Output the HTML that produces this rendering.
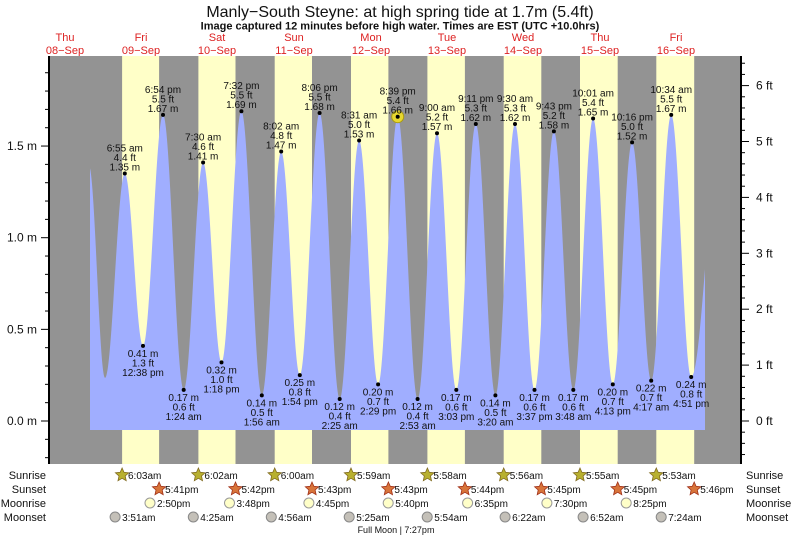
<!DOCTYPE html>
<html><head><meta charset="utf-8"><style>
body{margin:0;background:#fff}
svg{display:block;font-family:"Liberation Sans",sans-serif}
.l{font-size:10px;fill:#111;text-anchor:middle}
.r{font-size:12px;fill:#111}
.s{font-size:11px;fill:#111}
</style></head><body>
<svg id="s" width="793" height="538" viewBox="0 0 793 538" xmlns="http://www.w3.org/2000/svg">
<rect x="0" y="0" width="793" height="538" fill="#fff"/>
<text x="400" y="17" font-size="16" text-anchor="middle" fill="#111">Manly−South Steyne: at high  spring tide at 1.7m (5.4ft)</text>
<text x="400" y="29.5" font-size="11" font-weight="bold" text-anchor="middle" fill="#111">Image captured 12 minutes before high water. Times are EST (UTC +10.0hrs)</text>
<g font-size="11" fill="#d22" text-anchor="middle">
<text x="65" y="41">Thu</text><text x="65" y="54">08−Sep</text>
<text x="141" y="41">Fri</text><text x="141" y="54">09−Sep</text>
<text x="217" y="41">Sat</text><text x="217" y="54">10−Sep</text>
<text x="294" y="41">Sun</text><text x="294" y="54">11−Sep</text>
<text x="371" y="41">Mon</text><text x="371" y="54">12−Sep</text>
<text x="447" y="41">Tue</text><text x="447" y="54">13−Sep</text>
<text x="523" y="41">Wed</text><text x="523" y="54">14−Sep</text>
<text x="600" y="41">Thu</text><text x="600" y="54">15−Sep</text>
<text x="676" y="41">Fri</text><text x="676" y="54">16−Sep</text>
</g>
<rect x="49" y="56" width="692" height="408" fill="#939393"/>
<g fill="#ffffc8">
<rect x="122.1" y="56" width="37" height="408"/>
<rect x="198.4" y="56" width="37.1" height="408"/>
<rect x="274.7" y="56" width="37.3" height="408"/>
<rect x="351.0" y="56" width="37.4" height="408"/>
<rect x="427.4" y="56" width="37.5" height="408"/>
<rect x="503.7" y="56" width="37.6" height="408"/>
<rect x="580.0" y="56" width="37.7" height="408"/>
<rect x="656.3" y="56" width="37.9" height="408"/>
</g>
<path id="tide" fill="#a0aeff" d=""/>
<line x1="49" y1="56" x2="49" y2="464" stroke="#000" stroke-width="2"/>
<line x1="741" y1="56" x2="741" y2="464" stroke="#000" stroke-width="2"/>
<g id="ticks" stroke="#000" stroke-width="1"></g>
<g class="r" text-anchor="end">
<text x="37" y="425">0.0 m</text><text x="37" y="333.4">0.5 m</text><text x="37" y="241.7">1.0 m</text><text x="37" y="150">1.5 m</text>
</g>
<g class="r">
<text x="756" y="425">0 ft</text><text x="756" y="369.1">1 ft</text><text x="756" y="313.2">2 ft</text><text x="756" y="257.3">3 ft</text><text x="756" y="201.4">4 ft</text><text x="756" y="145.5">5 ft</text><text x="756" y="89.6">6 ft</text>
</g>
<circle cx="397.7" cy="116.7" r="6" fill="#e8d830" stroke="#aa9a10"/>
<g id="dots" fill="#000"></g>
<g class="l">
<text x="124.8" y="151.5"><tspan x="124.8">6:55 am</tspan><tspan x="124.8" dy="9.5">4.4 ft</tspan><tspan x="124.8" dy="9.5">1.35 m</tspan></text>
<text x="163.0" y="92.9"><tspan x="163.0">6:54 pm</tspan><tspan x="163.0" dy="9.5">5.5 ft</tspan><tspan x="163.0" dy="9.5">1.67 m</tspan></text>
<text x="203.1" y="140.5"><tspan x="203.1">7:30 am</tspan><tspan x="203.1" dy="9.5">4.6 ft</tspan><tspan x="203.1" dy="9.5">1.41 m</tspan></text>
<text x="241.4" y="89.2"><tspan x="241.4">7:32 pm</tspan><tspan x="241.4" dy="9.5">5.5 ft</tspan><tspan x="241.4" dy="9.5">1.69 m</tspan></text>
<text x="281.2" y="129.5"><tspan x="281.2">8:02 am</tspan><tspan x="281.2" dy="9.5">4.8 ft</tspan><tspan x="281.2" dy="9.5">1.47 m</tspan></text>
<text x="319.6" y="91.1"><tspan x="319.6">8:06 pm</tspan><tspan x="319.6" dy="9.5">5.5 ft</tspan><tspan x="319.6" dy="9.5">1.68 m</tspan></text>
<text x="359.1" y="118.6"><tspan x="359.1">8:31 am</tspan><tspan x="359.1" dy="9.5">5.0 ft</tspan><tspan x="359.1" dy="9.5">1.53 m</tspan></text>
<text x="397.7" y="94.7"><tspan x="397.7">8:39 pm</tspan><tspan x="397.7" dy="9.5">5.4 ft</tspan><tspan x="397.7" dy="9.5">1.66 m</tspan></text>
<text x="437.0" y="111.2"><tspan x="437.0">9:00 am</tspan><tspan x="437.0" dy="9.5">5.2 ft</tspan><tspan x="437.0" dy="9.5">1.57 m</tspan></text>
<text x="475.8" y="102.1"><tspan x="475.8">9:11 pm</tspan><tspan x="475.8" dy="9.5">5.3 ft</tspan><tspan x="475.8" dy="9.5">1.62 m</tspan></text>
<text x="515.0" y="102.1"><tspan x="515.0">9:30 am</tspan><tspan x="515.0" dy="9.5">5.3 ft</tspan><tspan x="515.0" dy="9.5">1.62 m</tspan></text>
<text x="553.9" y="109.4"><tspan x="553.9">9:43 pm</tspan><tspan x="553.9" dy="9.5">5.2 ft</tspan><tspan x="553.9" dy="9.5">1.58 m</tspan></text>
<text x="593.1" y="96.6"><tspan x="593.1">10:01 am</tspan><tspan x="593.1" dy="9.5">5.4 ft</tspan><tspan x="593.1" dy="9.5">1.65 m</tspan></text>
<text x="632.1" y="120.4"><tspan x="632.1">10:16 pm</tspan><tspan x="632.1" dy="9.5">5.0 ft</tspan><tspan x="632.1" dy="9.5">1.52 m</tspan></text>
<text x="671.2" y="92.9"><tspan x="671.2">10:34 am</tspan><tspan x="671.2" dy="9.5">5.5 ft</tspan><tspan x="671.2" dy="9.5">1.67 m</tspan></text>

<text x="143.0" y="356.8"><tspan x="143.0">0.41 m</tspan><tspan x="143.0" dy="9.5">1.3 ft</tspan><tspan x="143.0" dy="9.5">12:38 pm</tspan></text>
<text x="183.7" y="400.8"><tspan x="183.7">0.17 m</tspan><tspan x="183.7" dy="9.5">0.6 ft</tspan><tspan x="183.7" dy="9.5">1:24 am</tspan></text>
<text x="221.5" y="373.3"><tspan x="221.5">0.32 m</tspan><tspan x="221.5" dy="9.5">1.0 ft</tspan><tspan x="221.5" dy="9.5">1:18 pm</tspan></text>
<text x="261.8" y="406.3"><tspan x="261.8">0.14 m</tspan><tspan x="261.8" dy="9.5">0.5 ft</tspan><tspan x="261.8" dy="9.5">1:56 am</tspan></text>
<text x="299.8" y="386.2"><tspan x="299.8">0.25 m</tspan><tspan x="299.8" dy="9.5">0.8 ft</tspan><tspan x="299.8" dy="9.5">1:54 pm</tspan></text>
<text x="339.7" y="410.0"><tspan x="339.7">0.12 m</tspan><tspan x="339.7" dy="9.5">0.4 ft</tspan><tspan x="339.7" dy="9.5">2:25 am</tspan></text>
<text x="378.1" y="395.3"><tspan x="378.1">0.20 m</tspan><tspan x="378.1" dy="9.5">0.7 ft</tspan><tspan x="378.1" dy="9.5">2:29 pm</tspan></text>
<text x="417.6" y="410.0"><tspan x="417.6">0.12 m</tspan><tspan x="417.6" dy="9.5">0.4 ft</tspan><tspan x="417.6" dy="9.5">2:53 am</tspan></text>
<text x="456.3" y="400.8"><tspan x="456.3">0.17 m</tspan><tspan x="456.3" dy="9.5">0.6 ft</tspan><tspan x="456.3" dy="9.5">3:03 pm</tspan></text>
<text x="495.4" y="406.3"><tspan x="495.4">0.14 m</tspan><tspan x="495.4" dy="9.5">0.5 ft</tspan><tspan x="495.4" dy="9.5">3:20 am</tspan></text>
<text x="534.5" y="400.8"><tspan x="534.5">0.17 m</tspan><tspan x="534.5" dy="9.5">0.6 ft</tspan><tspan x="534.5" dy="9.5">3:37 pm</tspan></text>
<text x="573.3" y="400.8"><tspan x="573.3">0.17 m</tspan><tspan x="573.3" dy="9.5">0.6 ft</tspan><tspan x="573.3" dy="9.5">3:48 am</tspan></text>
<text x="612.8" y="395.3"><tspan x="612.8">0.20 m</tspan><tspan x="612.8" dy="9.5">0.7 ft</tspan><tspan x="612.8" dy="9.5">4:13 pm</tspan></text>
<text x="651.2" y="391.7"><tspan x="651.2">0.22 m</tspan><tspan x="651.2" dy="9.5">0.7 ft</tspan><tspan x="651.2" dy="9.5">4:17 am</tspan></text>
<text x="691.2" y="388.0"><tspan x="691.2">0.24 m</tspan><tspan x="691.2" dy="9.5">0.8 ft</tspan><tspan x="691.2" dy="9.5">4:51 pm</tspan></text>
</g>
<g class="s" text-anchor="end">
<text x="46" y="479">Sunrise</text><text x="46" y="493">Sunset</text><text x="46" y="507">Moonrise</text><text x="46" y="521">Moonset</text>
</g>
<g class="s">
<text x="746" y="479">Sunrise</text><text x="746" y="493">Sunset</text><text x="746" y="507">Moonrise</text><text x="746" y="521">Moonset</text>
</g>
<g id="icons"></g>
<g font-size="10" fill="#111">
<text x="128" y="479">6:03am</text><text x="204.4" y="479">6:02am</text><text x="280.7" y="479">6:00am</text><text x="357" y="479">5:59am</text><text x="433.4" y="479">5:58am</text><text x="509.7" y="479">5:56am</text><text x="586" y="479">5:55am</text><text x="662.3" y="479">5:53am</text>
<text x="165.1" y="493">5:41pm</text><text x="241.5" y="493">5:42pm</text><text x="318" y="493">5:43pm</text><text x="394.4" y="493">5:43pm</text><text x="470.9" y="493">5:44pm</text><text x="547.3" y="493">5:45pm</text><text x="623.7" y="493">5:45pm</text><text x="700.2" y="493">5:46pm</text>
<text x="157" y="507">2:50pm</text><text x="236.5" y="507">3:48pm</text><text x="315.9" y="507">4:45pm</text><text x="395.2" y="507">5:40pm</text><text x="474.6" y="507">6:35pm</text><text x="553.9" y="507">7:30pm</text><text x="633.2" y="507">8:25pm</text>
<text x="122.1" y="521">3:51am</text><text x="200.3" y="521">4:25am</text><text x="278.3" y="521">4:56am</text><text x="356.2" y="521">5:25am</text><text x="434.2" y="521">5:54am</text><text x="512.1" y="521">6:22am</text><text x="590.1" y="521">6:52am</text><text x="668.2" y="521">7:24am</text>
<text x="396" y="533" font-size="9" text-anchor="middle">Full Moon | 7:27pm</text>
</g>
</svg>
<script>
var NS="http://www.w3.org/2000/svg";
var ex=[[89,1.39],[105,0.235],[124.8,1.35],[143.0,0.41],[163.0,1.67],[183.7,0.17],[203.1,1.41],[221.5,0.32],[241.4,1.69],[261.8,0.14],[281.2,1.47],[299.8,0.25],[319.6,1.68],[339.7,0.12],[359.1,1.53],[378.1,0.20],[397.7,1.66],[417.6,0.12],[437.0,1.57],[456.3,0.17],[475.8,1.62],[495.4,0.14],[515.0,1.62],[534.5,0.17],[553.9,1.58],[573.3,0.17],[593.1,1.65],[612.8,0.20],[632.1,1.52],[651.2,0.22],[671.2,1.67],[691.2,0.24],[720,1.5]];
function Y(h){return 421-183.3*h;}
var d="M90,430";
for(var x=90;x<=705;x+=0.5){
 for(var i=0;i<ex.length-1;i++){if(x>=ex[i][0]&&x<=ex[i+1][0])break;}
 var a=ex[i],b=ex[i+1],t=(x-a[0])/(b[0]-a[0]);
 var h=a[1]+(b[1]-a[1])*(1-Math.cos(Math.PI*t))/2;
 d+=" L"+x+","+Y(h).toFixed(1);
}
d+=" L705,430 Z";
document.getElementById("tide").setAttribute("d",d);
var dots=document.getElementById("dots");
for(var i=2;i<ex.length-1;i++){var c=document.createElementNS(NS,"circle");c.setAttribute("cx",ex[i][0]);c.setAttribute("cy",Y(ex[i][1]));c.setAttribute("r",2);dots.appendChild(c);}
var tk=document.getElementById("ticks"),s="";
for(var k=-4;k<=20;k++){var y=421-18.33*k;if(y<56||y>464)continue;var L=(k%5==0)?8:4;s+='<line x1="'+(49-L)+'" y1="'+y+'" x2="49" y2="'+y+'"/>';}
for(var k=-5;k<=33;k++){var y=421-11.18*k;if(y<56||y>464)continue;var L=(k%5==0)?8:4;s+='<line x1="741" y1="'+y+'" x2="'+(741+L)+'" y2="'+y+'"/>';}
tk.innerHTML=s;
function star(cx,cy,col,st){var p="";for(var j=0;j<10;j++){var r=j%2?3.3:7,a=-Math.PI/2+j*Math.PI/5;p+=(cx+r*Math.cos(a)).toFixed(1)+","+(cy+r*Math.sin(a)).toFixed(1)+" ";}return '<polygon points="'+p+'" fill="'+col+'" stroke="'+st+'" stroke-width="0.8"/>';}
var ic="";
[122.1,198.4,274.7,351.0,427.4,503.7,580.0,656.3].forEach(function(x){ic+=star(x,475,"#b8b030","#806a20");});
[159.1,235.5,312.0,388.4,464.9,541.3,617.7,694.2].forEach(function(x){ic+=star(x,489,"#d8743a","#a03018");});
[150.0,229.5,308.9,388.2,467.6,546.9,626.2].forEach(function(x){ic+='<circle cx="'+x+'" cy="503" r="5" fill="#ffffc8" stroke="#999"/>';});
[115.1,193.3,271.3,349.2,427.2,505.1,583.1,661.2].forEach(function(x){ic+='<circle cx="'+x+'" cy="517" r="5" fill="#c4c0b8" stroke="#888"/>';});
document.getElementById("icons").innerHTML=ic;
</script>
</body></html>
